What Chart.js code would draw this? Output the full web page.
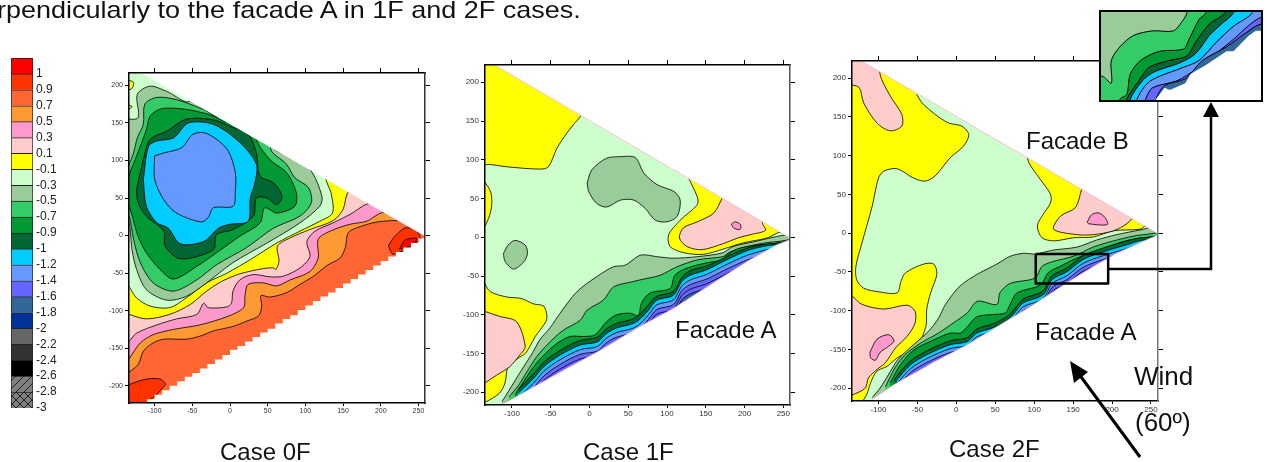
<!DOCTYPE html>
<html>
<head>
<meta charset="utf-8">
<script src="https://cdn.jsdelivr.net/npm/chart.js@4"></script>
<style>
html, body { margin: 0; padding: 0; background: #fff; overflow: hidden; }
body { width: 1267px; height: 462px; position: relative; font-family: "Liberation Sans", Arial, sans-serif; }
canvas { position: absolute; }
.t { position: absolute; font-size: 24px; line-height: 1; color: #111; white-space: nowrap; z-index: 5; }
svg { position: absolute; left: 0; top: 0; z-index: 4; }
</style>
</head>
<body>
<div class="t" style="left:-3px;top:-2px;transform:scaleX(1.125);transform-origin:left top">rpendicularly to the facade A in 1F and 2F cases.</div>
<canvas id="scale"></canvas>
<canvas id="case0"></canvas>
<canvas id="case1"></canvas>
<canvas id="case2"></canvas>
<canvas id="inset" style="outline:2.5px solid #000;z-index:3"></canvas>
<div class="t" style="left:220px;top:440px">Case 0F</div>
<div class="t" style="left:583px;top:440px">Case 1F</div>
<div class="t" style="left:949px;top:437px">Case 2F</div>
<div class="t" style="left:675px;top:318px">Facade A</div>
<div class="t" style="left:1026px;top:129px">Facade B</div>
<div class="t" style="left:1035px;top:320px">Facade A</div>
<div class="t" style="left:1134px;top:363px;font-size:26px">Wind</div>
<div class="t" style="left:1135px;top:409px;font-size:26px">(60º)</div>
<svg width="1267" height="462">
  <polyline points="1108,269 1211,269 1211,112" fill="none" stroke="#000" stroke-width="2.5"/>
  <polygon points="1211,102 1203,117 1219,117" fill="#000"/>
  <line x1="1140" y1="457" x2="1076" y2="370" stroke="#000" stroke-width="3"/>
  <polygon points="1070,361 1088,372 1074,383" fill="#000"/>
</svg>
<script>
// colour scale
const scaleTicks = ['1','0.9','0.7','0.5','0.3','0.1','-0.1','-0.3','-0.5','-0.7','-0.9','-1','-1.2','-1.4','-1.6','-1.8','-2','-2.2','-2.4','-2.6','-2.8','-3'];
const scaleColors = ['#ff0000','#ff3300','#ff6633','#ff9933','#ff99cc','#ffcccc','#ffff00','#ccffcc','#99cc99','#33cc66','#009933','#006633','#00ccff','#6699ff','#6666ff','#336699','#003399','#666666','#333333','#000000','hatch','cross'];
const xTicks = [-100,-50,0,50,100,150,200,250];
const yTicks = [-200,-150,-100,-50,0,50,100,150,200];

const outside = [[-300,-300],[320,-300],[320,300],[-300,300]];

// Case 0F contours
const c0Orange = [[-140,-186],[-122,-172],[-115,-154],[-102,-143],[-88,-138],[-58,-138],[-40,-134],[-22,-127],[4,-121],[22,-114],[38,-107],[42,-94],[41,-80],[53,-82],[75,-76],[93,-65],[111,-54],[130,-39],[146,-30],[153,-16],[157,4],[173,12],[195,18],[221,20],[300,20],[300,300],[-140,300]];
const c0Pink = [[-140,-170],[-134,-164],[-119,-143],[-102,-132],[-75,-125],[-40,-119],[-4,-108],[18,-96],[20,-79],[24,-65],[44,-63],[62,-67],[80,-59],[106,-48],[117,-30],[117,-5],[133,6],[159,15],[181,19],[204,31],[300,31],[300,300],[-140,300]];
const c0LightPink = [[-140,-146],[-134,-141],[-124,-130],[-97,-119],[-71,-111],[-44,-105],[-35,-90],[-29,-96],[-4,-95],[2,-90],[4,-74],[13,-59],[31,-52],[53,-55],[71,-54],[93,-43],[106,-28],[102,-8],[113,6],[137,17],[159,28],[186,43],[300,43],[300,300],[-140,300]];
const c0Yellow = [[-140,-103],[-134,-105],[-111,-111],[-80,-105],[-53,-92],[-31,-74],[-11,-61],[13,-51],[44,-44],[57,-43],[61,-45],[65,-34],[63,-14],[80,-3],[106,8],[137,20],[150,35],[156,57],[164,59],[300,59],[300,300],[-140,300]];
const c0Pale = [[-140,-62],[-134,-68],[-124,-83],[-106,-94],[-80,-96],[-58,-83],[-31,-63],[-4,-50],[27,-32],[62,-10],[93,6],[119,19],[136,30],[134,57],[127,77],[130,300],[-140,300]];
const c0Sage = [[-140,155],[-122,157],[-123,188],[-106,199],[-84,192],[-53,179],[-20,250],[100,200],[55,121],[75,106],[106,88],[122,52],[119,39],[93,17],[49,-10],[4,-36],[-31,-63],[-58,-81],[-84,-86],[-111,-72],[-124,-45],[-130,-19],[-134,17],[-140,17]];
const c0Green = [[-140,79],[-128,110],[-123,130],[-115,148],[-113,175],[-97,184],[-71,181],[-35,168],[-13,159],[20,240],[100,200],[54,117],[75,95],[86,77],[104,64],[108,44],[93,26],[58,10],[22,-16],[-18,-39],[-44,-59],[-75,-74],[-102,-63],[-119,-36],[-128,-5],[-134,26],[-140,26]];
const c0Mid = [[-140,66],[-124,106],[-111,141],[-106,159],[-91,169],[-58,168],[-27,161],[0,152],[20,200],[60,180],[35,132],[53,101],[75,84],[88,57],[86,39],[62,30],[46,37],[40,17],[13,-1],[-18,-23],[-44,-41],[-75,-58],[-93,-45],[-111,-23],[-122,-1],[-134,39],[-140,39]];
const c0Dark = [[-124,61],[-115,101],[-106,128],[-84,139],[-58,155],[-22,154],[4,144],[24,135],[35,110],[40,79],[58,70],[69,52],[62,41],[49,50],[35,50],[31,26],[4,8],[-18,1],[-22,-19],[-66,-31],[-86,-14],[-88,6],[-111,26],[-122,44],[-124,61]];
const c0Cyan = [[-115,75],[-108,119],[-97,126],[-75,130],[-55,150],[-22,148],[13,124],[35,95],[33,70],[27,50],[24,19],[0,15],[-15,10],[-35,-8],[-66,-11],[-82,10],[-97,17],[-111,39],[-115,75]];
const c0Blue = [[-100,106],[-88,110],[-64,117],[-49,135],[-31,136],[-4,115],[7,84],[7,57],[4,39],[-22,37],[-29,24],[-38,18],[-71,30],[-88,48],[-100,75],[-100,106]];
const c0RedLeft = [[-140,-201],[-115,-192],[-93,-191],[-86,-199],[-119,-228],[-140,-228]];
const c0RedTip = [[210,-14],[217,-3],[232,10],[246,8],[252,-5],[217,-25],[210,-14]];
const c0FullRedTip = [[225,-18],[232,-6],[248,-4],[240,-14],[225,-18]];
const c0YellowA = [[-140,208],[-128,204],[-131,195],[-140,195]];
const c0YellowB = [[-140,175],[-130,172],[-133,169],[-140,169]];
const c0EdgeTop = [[-119,217],[257,0],[320,0],[320,300],[-119,300]];
const c0EdgeBottom = [[-119,-223],[-110,-218],[-100,-212],[-90,-206],[-80,-200],[-70,-194],[-60,-188],[-50,-183],[-40,-177],[-30,-171],[-20,-165],[-10,-159],[0,-152],[10,-147],[20,-141],[30,-135],[40,-129],[50,-124],[60,-117],[70,-111],[80,-106],[90,-99],[100,-93],[110,-87],[120,-81],[130,-76],[140,-70],[150,-64],[160,-58],[170,-52],[180,-46],[190,-40],[200,-34],[210,-28],[220,-22],[230,-16],[240,-10],[250,-4],[258,0],[320,0],[320,-300],[-119,-300]];

// Case 1F contours
const c1YellowTop = [[-140,91],[-131,94],[-107,91],[-64,88],[-53,91],[-42,115],[-31,132],[-21,145],[-10,160],[0,250],[-140,250]];
const c1YellowLeft = [[-140,76],[-137,74],[-127,57],[-127,35],[-135,14],[-140,12]];
const c1SageA = [[-3,70],[3,87],[22,102],[40,104],[59,103],[70,83],[87,68],[109,59],[117,48],[113,27],[100,20],[85,22],[72,37],[57,48],[40,48],[22,39],[9,44],[-1,59],[-3,70]];
const c1SageB = [[-111,-21],[-105,-10],[-96,-4],[-83,-10],[-80,-21],[-85,-32],[-98,-41],[-109,-31],[-111,-21]];
const c1YellowRight = [[126,80],[139,52],[139,42],[117,22],[102,3],[104,-12],[122,-20],[147,-22],[173,-15],[199,-7],[229,-1],[247,7],[300,7],[300,100],[126,100]];
const c1PinkRight = [[172,52],[160,31],[139,20],[121,12],[116,-1],[126,-12],[145,-16],[173,-8],[191,-1],[210,4],[227,9],[223,19],[230,35],[172,70]];
const c1PinkDot = [[183,17],[188,20],[195,16],[194,10],[186,12],[183,17]];
const c1YellowLow = [[-140,-55],[-137,-57],[-128,-70],[-107,-77],[-88,-79],[-72,-86],[-59,-89],[-55,-105],[-64,-120],[-70,-128],[-77,-141],[-83,-150],[-92,-156],[-105,-167],[-109,-188],[-116,-201],[-133,-212],[-140,-214],[-140,-230]];
const c1PinkLow = [[-140,-94],[-116,-102],[-94,-109],[-83,-141],[-90,-152],[-103,-167],[-120,-178],[-135,-188],[-140,-191]];
const c1Sage = [[-113,-212],[-109,-206],[-98,-188],[-85,-167],[-74,-150],[-64,-132],[-51,-117],[-38,-98],[-16,-70],[9,-51],[31,-38],[46,-36],[66,-23],[87,-25],[108,-27],[139,-25],[172,-20],[185,-12],[211,-6],[237,0],[256,3],[270,-2],[320,-2],[320,-300],[-113,-300]];
const c1Green = [[-104,-206],[-93,-193],[-81,-174],[-68,-154],[-51,-135],[-34,-120],[-12,-107],[-3,-94],[18,-81],[31,-64],[57,-57],[65,-55],[91,-49],[113,-38],[140,-29],[172,-25],[181,-19],[203,-12],[237,-6],[320,-6],[320,-300],[-104,-300]];
const c1Mid = [[-96,-203],[-85,-186],[-72,-167],[-59,-152],[-42,-137],[-25,-128],[-8,-128],[7,-126],[22,-109],[35,-100],[52,-98],[63,-101],[67,-85],[78,-72],[104,-66],[110,-49],[125,-40],[151,-33],[172,-29],[177,-23],[194,-14],[228,-9],[320,-9],[320,-300],[-96,-300]];
const c1Dark = [[-92,-196],[-72,-176],[-59,-161],[-38,-146],[-12,-133],[10,-129],[22,-118],[35,-111],[57,-105],[68,-96],[76,-87],[87,-76],[108,-70],[119,-52],[130,-43],[151,-37],[173,-27],[190,-19],[207,-13],[237,-8],[320,-8],[320,-300],[-92,-300]];
const c1Cyan = [[-92,-201],[-72,-182],[-59,-167],[-38,-152],[-12,-139],[10,-135],[22,-124],[35,-117],[57,-111],[68,-103],[76,-94],[87,-81],[108,-75],[119,-57],[130,-49],[151,-42],[173,-31],[190,-23],[207,-16],[237,-10],[320,-10],[320,-300],[-92,-300]];
const c1Blue = [[-92,-207],[-72,-188],[-59,-173],[-38,-158],[-12,-145],[10,-141],[22,-130],[35,-123],[57,-117],[68,-109],[76,-100],[87,-87],[108,-81],[119,-63],[130,-55],[151,-48],[173,-37],[190,-29],[207,-22],[237,-15],[320,-15],[320,-300],[-92,-300]];
const c1Violet = [[-92,-213],[-72,-194],[-59,-179],[-38,-164],[-12,-151],[10,-147],[22,-136],[35,-129],[57,-123],[68,-115],[76,-106],[87,-93],[108,-87],[119,-69],[130,-61],[151,-54],[173,-43],[190,-35],[207,-28],[237,-20],[320,-20],[320,-300],[-92,-300]];
const c1VioletLow = [[-92,-219],[-72,-200],[-59,-185],[-38,-170],[-12,-157],[10,-153],[22,-142],[35,-135],[57,-129],[68,-121],[76,-112],[87,-99],[108,-93],[119,-75],[130,-67],[151,-60],[173,-49],[190,-41],[207,-34],[237,-25],[320,-25],[320,-300],[-92,-300]];
const c1Steel = [[-92,-225],[-72,-206],[-59,-191],[-38,-176],[-12,-163],[10,-159],[22,-148],[35,-141],[57,-135],[68,-127],[76,-118],[87,-105],[108,-99],[119,-81],[130,-73],[151,-66],[173,-55],[190,-47],[207,-40],[237,-30],[320,-30],[320,-300],[-92,-300]];
const c1EdgeTop = [[-122,222],[259,-1],[320,-1],[320,300],[-122,300]];
const c1EdgeBottom = [[-115,-217],[-102,-210],[-29,-169],[10,-148],[40,-130],[65,-115],[108,-92],[172,-51],[207,-29],[241,-10],[259,-3],[320,-3],[320,-300],[-115,-300]];

// Case 2F contours
const c2Yellow = [[-51,179],[-44,168],[-27,153],[-10,142],[7,138],[16,127],[9,112],[-8,97],[-27,74],[-40,67],[-55,71],[-76,83],[-93,80],[-100,71],[-108,35],[-121,-12],[-129,-43],[-128,-60],[-119,-71],[-98,-76],[-76,-77],[-71,-62],[-65,-51],[-42,-40],[-29,-40],[-25,-53],[-33,-77],[-38,-98],[-39,-120],[-50,-146],[-63,-154],[-76,-161],[-89,-172],[-102,-178],[-110,-193],[-115,-208],[-121,-217],[-140,-230],[-140,260],[-51,260]];
const c2PinkTop = [[-140,192],[-125,188],[-119,168],[-102,142],[-85,132],[-70,138],[-70,153],[-85,177],[-98,205],[-98,240],[-140,240]];
const c2PinkLow = [[-140,-78],[-134,-81],[-121,-92],[-93,-98],[-63,-93],[-53,-101],[-53,-116],[-63,-133],[-78,-148],[-91,-167],[-102,-176],[-113,-187],[-117,-200],[-134,-209],[-140,-211]];
const c2PinkBlob = [[-111,-154],[-102,-137],[-87,-131],[-80,-139],[-87,-146],[-98,-154],[-104,-164],[-110,-161],[-111,-154]];
const c2YellowRight = [[91,103],[93,91],[108,69],[121,50],[121,39],[110,22],[104,9],[110,-6],[125,-10],[151,-6],[176,-5],[202,3],[236,5],[243,9],[300,9],[300,120],[91,120]];
const c2PinkRight = [[161,57],[153,33],[134,22],[125,5],[155,-2],[176,-2],[202,3],[219,12],[225,18],[240,30],[161,80]];
const c2PinkDot = [[168,14],[174,24],[183,26],[191,20],[194,11],[170,12],[168,14]];
const c2Sage = [[-108,-212],[-98,-200],[-85,-179],[-75,-163],[-55,-144],[-36,-127],[-23,-110],[-14,-92],[5,-68],[27,-53],[52,-40],[69,-30],[86,-26],[101,-27],[124,-22],[155,-18],[180,-9],[206,-2],[236,4],[253,7],[270,0],[320,0],[320,-300],[-108,-300]];
const c2Green = [[-91,-198],[-79,-174],[-66,-157],[-46,-142],[-23,-129],[-4,-116],[14,-103],[27,-88],[52,-92],[56,-77],[69,-65],[101,-58],[110,-43],[123,-37],[150,-30],[176,-18],[206,-9],[240,-2],[320,-2],[320,-300],[-91,-300]];
const c2Mid = [[-85,-193],[-72,-170],[-55,-151],[-34,-140],[-8,-129],[5,-129],[14,-121],[26,-108],[47,-105],[63,-103],[69,-92],[78,-77],[108,-67],[118,-51],[133,-43],[155,-32],[180,-24],[214,-11],[249,-5],[320,-5],[320,-300],[-85,-300]];
const c2Dark = [[-80,-190],[-76,-184],[-59,-165],[-38,-152],[-8,-139],[14,-135],[26,-124],[47,-117],[63,-109],[73,-100],[86,-85],[111,-75],[123,-55],[142,-45],[163,-29],[189,-19],[219,-10],[240,-6],[320,-6],[320,-300],[-80,-300]];
const c2Cyan = [[-76,-189],[-59,-170],[-38,-157],[-8,-144],[14,-140],[26,-129],[47,-122],[63,-114],[73,-105],[86,-90],[111,-80],[123,-60],[142,-50],[163,-34],[189,-24],[219,-15],[240,-9],[320,-9],[320,-300],[-76,-300]];
const c2Blue = [[-76,-194],[-59,-175],[-38,-162],[-8,-149],[14,-145],[26,-134],[47,-127],[63,-119],[73,-110],[86,-95],[111,-85],[123,-65],[142,-55],[163,-39],[189,-29],[219,-20],[240,-13],[320,-13],[320,-300],[-76,-300]];
const c2Violet = [[-76,-199],[-59,-180],[-38,-167],[-8,-154],[14,-150],[26,-139],[47,-132],[63,-124],[73,-115],[86,-100],[111,-90],[123,-70],[142,-60],[163,-44],[189,-34],[219,-25],[240,-17],[320,-17],[320,-300],[-76,-300]];
const c2VioletLow = [[-76,-204],[-59,-185],[-38,-172],[-8,-159],[14,-155],[26,-144],[47,-137],[63,-129],[73,-120],[86,-105],[111,-95],[123,-75],[142,-65],[163,-49],[189,-39],[219,-30],[240,-21],[320,-21],[320,-300],[-76,-300]];
const c2Steel = [[-76,-209],[-59,-190],[-38,-177],[-8,-164],[14,-160],[26,-149],[47,-142],[63,-134],[73,-125],[86,-110],[111,-100],[123,-80],[142,-70],[163,-54],[189,-44],[219,-35],[240,-25],[320,-25],[320,-300],[-76,-300]];
const c2EdgeBottom = [[-110,-216],[-81,-196],[-30,-167],[14,-144],[60,-116],[95,-95],[142,-64],[176,-43],[206,-26],[230,-15],[253,-5],[259,-2],[320,-2],[320,-300],[-110,-300]];
const c2Box = [[102,-27],[195,-27],[195,-65],[102,-65],[102,-27]];

// inset, a close up of the box on Case 2F
const inGreen = [[95,-55],[103,-55],[108,-58],[108,-48],[113,-42],[121,-37],[132,-35],[144,-35],[149,-31],[152,-27],[152,-20],[210,-20],[210,-70],[95,-70]];
const inMid = [[113,-70],[113,-65],[117,-63],[119,-54],[125,-48],[136,-44],[150,-43],[153,-39],[159,-30],[163,-27],[163,-20],[210,-20],[210,-70]];
const inDark = [[117,-70],[117,-65],[124,-57],[130,-51],[142,-48],[152,-46],[157,-40],[165,-32],[174,-27],[174,-20],[210,-20],[210,-70]];
const inCyan = [[119,-70],[119,-65],[126,-57],[133,-53],[148,-49],[157,-45],[165,-37],[172,-32],[179,-27],[179,-20],[210,-20],[210,-70]];
const inBlue = [[123,-70],[123,-65],[129,-58],[136,-55],[150,-51],[159,-48],[169,-40],[179,-33],[190,-27],[190,-20],[210,-20],[210,-70]];
const inViolet = [[127,-70],[128,-65],[132,-60],[146,-57],[157,-52],[167,-46],[177,-40],[195,-29],[210,-29],[210,-70]];
const inSteel = [[134,-70],[134,-65],[139,-59],[151,-56],[161,-48],[175,-42],[186,-36],[195,-32],[210,-32],[210,-70]];
const inEdge = [[134,-65],[139,-60],[142,-61],[151,-58],[154,-54],[163,-50],[175,-44],[179,-44],[188,-37],[192,-35],[197,-35],[197,-70],[134,-70]];

function pts(list) { return list.map(p => ({x: p[0], y: p[1]})); }
function shape(list, color, width) {
  return {data: pts(list), showLine: true, fill: 'shape', backgroundColor: color, borderColor: '#000',
    borderWidth: width === undefined ? 0.8 : width, tension: 0.3, pointRadius: 0, borderJoinStyle: 'round'};
}
function mask(list, stepped, fringe) {
  return {data: pts(list), showLine: true, fill: 'shape', backgroundColor: '#fff', borderColor: fringe || '#fff',
    borderWidth: fringe ? 1 : 0, pointRadius: 0, tension: 0, stepped: !!stepped};
}

function plot(id, area, xr, yr, layers, rightColor) {
  const padL = 34, padR = 9, padT = 9, padB = 20;
  const el = document.getElementById(id);
  el.width = area.w + padL + padR;
  el.height = area.h + padT + padB;
  el.style.left = (area.x - padL) + 'px';
  el.style.top = (area.y - padT) + 'px';
  const font = {family: '"Liberation Sans", Arial, sans-serif', size: area.font};
  const fixW = w => s => { s.width = w; };
  const fixH = h => s => { s.height = h; };
  const xs = s => { s.ticks = xTicks.map(v => ({value: v})); };
  const ys = s => { s.ticks = yTicks.map(v => ({value: v})); };
  // first dataset is painted last by Chart.js
  new Chart(el, {
    type: 'scatter',
    data: {datasets: layers.slice().reverse()},
    options: {
      responsive: false, animation: false, events: [],
      layout: {padding: 0, autoPadding: false},
      plugins: {legend: {display: false}, tooltip: {enabled: false}},
      scales: {
        x: {type: 'linear', position: 'bottom', min: xr[0], max: xr[1], afterBuildTicks: xs, afterFit: fixH(padB),
          border: {color: '#000', width: 1.5, z: 1}, grid: {drawOnChartArea: false, color: '#000', tickLength: 3},
          ticks: {font, color: '#333', padding: 1, maxRotation: 0, autoSkip: false}},
        x2: {type: 'linear', position: 'top', min: xr[0], max: xr[1], afterBuildTicks: xs, afterFit: fixH(padT),
          border: {color: '#000', width: 1.5, z: 1}, grid: {drawOnChartArea: false, color: '#000', tickLength: 5},
          ticks: {display: false}},
        y: {type: 'linear', position: 'left', min: yr[0], max: yr[1], afterBuildTicks: ys, afterFit: fixW(padL),
          border: {color: '#000', width: 1.5, z: 1}, grid: {drawOnChartArea: false, color: '#000', tickLength: 4},
          ticks: {font, color: '#333', padding: 2, autoSkip: false}},
        y2: {type: 'linear', position: 'right', min: yr[0], max: yr[1], afterBuildTicks: ys, afterFit: fixW(padR),
          border: {color: rightColor, width: 1.5, z: 1}, grid: {drawOnChartArea: false, color: '#000', tickLength: 5},
          ticks: {display: false}}
      }
    }
  });
}

const fringe = 'rgba(255,170,210,0.7)';

// Case 0F
plot('case0', {x: 129, y: 73, w: 296, h: 330, font: 7}, [-134, 258.7], [-223, 216.5], [
  shape(outside, '#ff6633', 0), shape(c0RedLeft, '#ff3300'), shape(c0RedTip, '#ff3300'), shape(c0FullRedTip, '#ff0000'),
  shape(c0Orange, '#ff9933'), shape(c0Pink, '#ff99cc'), shape(c0LightPink, '#ffcccc'), shape(c0Yellow, '#ffff00'),
  shape(c0Pale, '#ccffcc'), shape(c0YellowA, '#ffff00'), shape(c0YellowB, '#ffff00'),
  shape(c0Sage, '#99cc99'), shape(c0Green, '#33cc66'), shape(c0Mid, '#009933'), shape(c0Dark, '#006633'),
  shape(c0Cyan, '#00ccff'), shape(c0Blue, '#6699ff'),
  mask(c0EdgeTop), mask(c0EdgeBottom, true)
], '#333');

// Case 1F
plot('case1', {x: 485, y: 65, w: 305, h: 340, font: 8}, [-134.8, 258.6], [-216.4, 222.3], [
  shape(outside, '#ccffcc', 0), shape(c1YellowTop, '#ffff00'), shape(c1YellowLeft, '#ffff00'),
  shape(c1SageA, '#99cc99'), shape(c1SageB, '#99cc99'),
  shape(c1YellowRight, '#ffff00'), shape(c1PinkRight, '#ffcccc'), shape(c1PinkDot, '#ff99cc'),
  shape(c1YellowLow, '#ffff00'), shape(c1PinkLow, '#ffcccc'),
  shape(c1Sage, '#99cc99'), shape(c1Green, '#33cc66'), shape(c1Mid, '#009933'), shape(c1Dark, '#006633'),
  shape(c1Cyan, '#00ccff'), shape(c1Blue, '#6699ff'), shape(c1Violet, '#6666ff'), shape(c1VioletLow, '#6666ff'), shape(c1Steel, '#336699'),
  mask(c1EdgeTop, false, fringe), mask(c1EdgeBottom, false, fringe)
], '#555');

// Case 2F
const box2 = shape(c2Box, 'transparent', 2.5);
box2.tension = 0; box2.fill = false;
plot('case2', {x: 852, y: 61, w: 306, h: 340, font: 8}, [-134, 259], [-216.6, 222], [
  shape(outside, '#ccffcc', 0), shape(c2Yellow, '#ffff00'), shape(c2PinkTop, '#ffcccc'), shape(c2PinkLow, '#ffcccc'), shape(c2PinkBlob, '#ff99cc'),
  shape(c2YellowRight, '#ffff00'), shape(c2PinkRight, '#ffcccc'), shape(c2PinkDot, '#ff99cc'),
  shape(c2Sage, '#99cc99'), shape(c2Green, '#33cc66'), shape(c2Mid, '#009933'), shape(c2Dark, '#006633'),
  shape(c2Cyan, '#00ccff'), shape(c2Blue, '#6699ff'), shape(c2Violet, '#6666ff'), shape(c2VioletLow, '#6666ff'), shape(c2Steel, '#336699'),
  mask(c1EdgeTop, false, fringe), mask(c2EdgeBottom, false, fringe), box2
], '#777');

// inset
const insetEl = document.getElementById('inset');
insetEl.width = 160; insetEl.height = 88;
insetEl.style.left = '1101px'; insetEl.style.top = '12px';
new Chart(insetEl, {
  type: 'scatter',
  data: {datasets: [
    shape(outside, '#99cc99', 0), shape(inGreen, '#33cc66', 1), shape(inMid, '#009933', 1), shape(inDark, '#006633', 1),
    shape(inCyan, '#00ccff', 1), shape(inBlue, '#6699ff', 1), shape(inViolet, '#6666ff', 1), shape(inSteel, '#336699', 1),
    mask(inEdge)
  ].reverse()},
  options: {
    responsive: false, animation: false, events: [],
    layout: {padding: 0, autoPadding: false},
    plugins: {legend: {display: false}, tooltip: {enabled: false}},
    scales: {x: {display: false, min: 102, max: 195}, y: {display: false, min: -65.4, max: -26.7}}
  }
});

// hatched swatches at the bottom of the colour scale
function pattern(cross) {
  const c = document.createElement('canvas');
  c.width = 8; c.height = 8;
  const g = c.getContext('2d');
  g.fillStyle = '#808080'; g.fillRect(0, 0, 8, 8);
  g.strokeStyle = '#222'; g.lineWidth = 1;
  g.beginPath(); g.moveTo(0, 8); g.lineTo(8, 0);
  if (cross) { g.moveTo(0, 0); g.lineTo(8, 8); }
  g.stroke();
  return g.createPattern(c, 'repeat');
}
const scaleEl = document.getElementById('scale');
scaleEl.width = 72; scaleEl.height = 372;
scaleEl.style.left = '0px'; scaleEl.style.top = '48px';
new Chart(scaleEl, {
  type: 'bar',
  data: {
    labels: ['scale'],
    datasets: scaleColors.map((c, i) => ({
      data: [1],
      backgroundColor: c === 'hatch' ? pattern(false) : c === 'cross' ? pattern(true) : c,
      borderColor: '#222', borderWidth: 1, barPercentage: 1, categoryPercentage: 1
    })).reverse()
  },
  options: {
    responsive: false, animation: false, events: [],
    layout: {padding: {left: 11, top: 10, bottom: 12}, autoPadding: false},
    plugins: {legend: {display: false}, tooltip: {enabled: false}},
    scales: {
      x: {stacked: true, display: false},
      y: {stacked: true, position: 'right', min: 0, max: 22, afterFit: s => { s.width = 39; },
        afterBuildTicks: s => { s.ticks = scaleTicks.map((t, i) => ({value: 21 - i})); },
        border: {display: false}, grid: {display: false},
        ticks: {autoSkip: false, padding: -5, color: '#222', font: {family: '"Liberation Sans", Arial, sans-serif', size: 12},
          callback: v => scaleTicks[21 - v]}}
    }
  }
});
</script>
</body>
</html>
